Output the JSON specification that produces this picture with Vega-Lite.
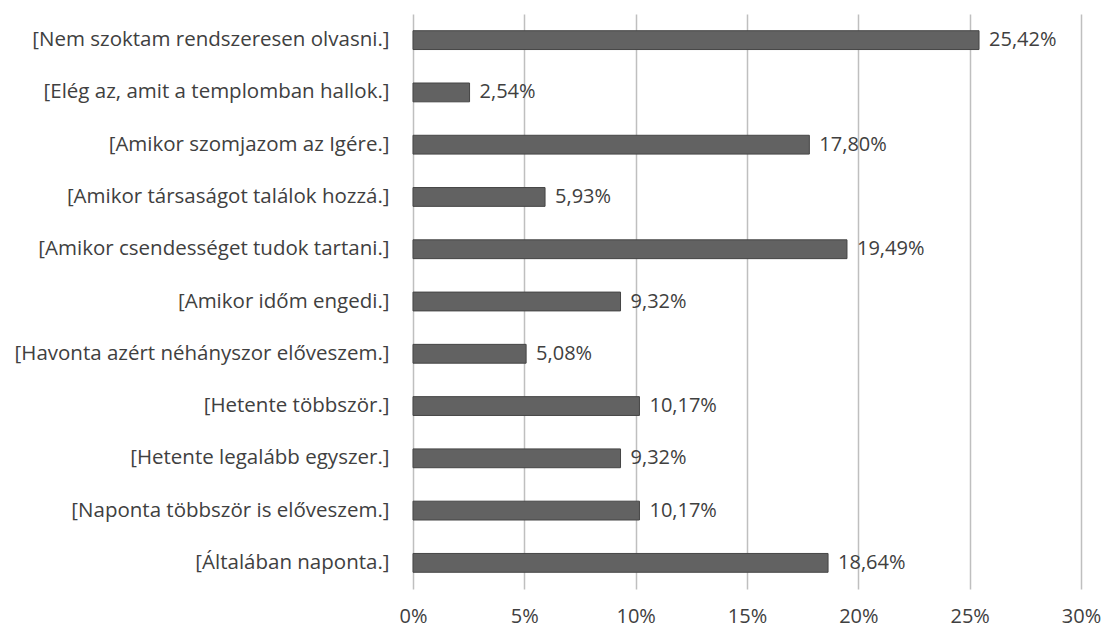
{
  "$schema": "https://vega.github.io/schema/vega-lite/v6.json",
  "width": 668,
  "height": 575,
  "autosize": {"type": "none"},
  "padding": {"left": 413, "top": 14, "right": 25, "bottom": 41},
  "background": "white",
  "data": {
    "values": [
      {"cat": "[Nem szoktam rendszeresen olvasni.]", "v": 0.2542},
      {"cat": "[Elég az, amit a templomban hallok.]", "v": 0.0254},
      {"cat": "[Amikor szomjazom az Igére.]", "v": 0.1780},
      {"cat": "[Amikor társaságot találok hozzá.]", "v": 0.0593},
      {"cat": "[Amikor csendességet tudok tartani.]", "v": 0.1949},
      {"cat": "[Amikor időm engedi.]", "v": 0.0932},
      {"cat": "[Havonta azért néhányszor előveszem.]", "v": 0.0508},
      {"cat": "[Hetente többször.]", "v": 0.1017},
      {"cat": "[Hetente legalább egyszer.]", "v": 0.0932},
      {"cat": "[Naponta többször is előveszem.]", "v": 0.1017},
      {"cat": "[Általában naponta.]", "v": 0.1864}
    ]
  },
  "encoding": {
    "y": {
      "field": "cat", "type": "nominal", "sort": null,
      "scale": {"paddingInner": 0.64, "paddingOuter": 0.32},
      "axis": {"title": null, "domain": false, "ticks": false, "grid": false, "labelPadding": 24, "labelLimit": 420, "labelFontSize": 20.5, "labelColor": "#404040", "labelFont": "Open Sans"}
    },
    "x": {
      "field": "v", "type": "quantitative",
      "scale": {"domain": [0, 0.3], "nice": false},
      "axis": {"title": null, "format": ".0%", "values": [0, 0.05, 0.1, 0.15, 0.2, 0.25, 0.3], "domain": false, "ticks": false, "grid": true, "gridColor": "#bfbfbf", "gridWidth": 1.5, "labelPadding": 17, "labelFontSize": 20, "labelColor": "#404040", "labelFont": "Open Sans", "labelFlush": false}
    }
  },
  "layer": [
    {"mark": {"type": "bar", "color": "#626262", "stroke": "#454545", "strokeWidth": 1}},
    {"mark": {"type": "text", "align": "left", "baseline": "middle", "dx": 10, "fontSize": 20, "font": "Open Sans", "color": "#404040"},
     "encoding": {"text": {"field": "v", "type": "quantitative", "format": ".2%"}}}
  ],
  "config": {
    "view": {"stroke": null},
    "locale": {"number": {"decimal": ",", "thousands": " ", "grouping": [3], "currency": ["", " Ft"]}}
  }
}
